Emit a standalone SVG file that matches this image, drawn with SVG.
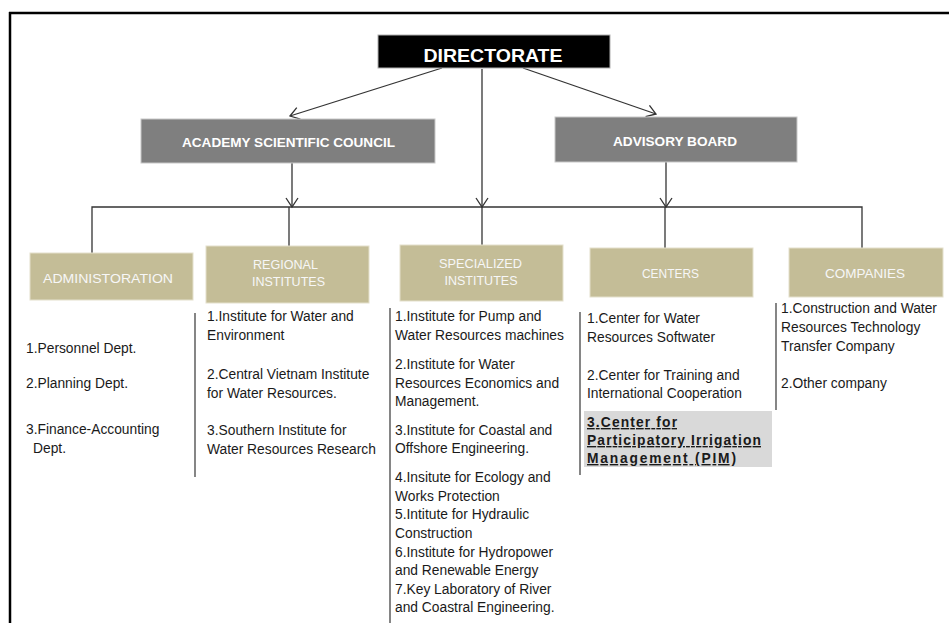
<svg xmlns="http://www.w3.org/2000/svg" width="949" height="623" viewBox="0 0 949 623">
<style>
.hd{font-family:"Liberation Sans",Arial,sans-serif;font-weight:bold;fill:#fff;text-anchor:middle}
.tn{font-family:"Liberation Sans",Arial,sans-serif;font-size:13px;fill:#f7f7f7;text-anchor:middle}
.ls{font-family:"Liberation Sans",Arial,sans-serif;font-size:13.8px;fill:#1a1a1a}
.lb{font-family:"Liberation Sans",Arial,sans-serif;font-size:13.8px;font-weight:bold;fill:#1a1a1a;text-decoration:underline}
.gray{fill:#7f7f7f;stroke:#c8c8c8;stroke-width:1}
.tan{fill:#c4bd97;stroke:#e4e0cc;stroke-width:1}
.cn{fill:none;stroke:#333;stroke-width:1.3}
.sep{fill:none;stroke:#444;stroke-width:1.3}
</style>
<defs>
<marker id="arr" markerUnits="userSpaceOnUse" markerWidth="14" markerHeight="14" viewBox="-11 -7 12 14" refX="0" refY="0" orient="auto">
<path d="M-9,-6 L0,0 L-9,6" fill="none" stroke="#333" stroke-width="1.3"/>
</marker>
</defs>
<rect width="949" height="623" fill="#fff"/>
<g id="frame">
<line x1="9" y1="13" x2="949" y2="13" stroke="#000" stroke-width="2.5"/>
<line x1="10" y1="12" x2="10" y2="623" stroke="#000" stroke-width="2.5"/>
</g>
<g id="connectors">
<line class="cn" x1="442" y1="68" x2="290" y2="116" marker-end="url(#arr)"/>
<line class="cn" x1="523" y1="68" x2="656" y2="114" marker-end="url(#arr)"/>
<line class="cn" x1="482" y1="69" x2="482" y2="207" marker-end="url(#arr)"/>
<line class="cn" x1="292" y1="163" x2="292" y2="207" marker-end="url(#arr)"/>
<line class="cn" x1="666" y1="162" x2="666" y2="207" marker-end="url(#arr)"/>
<polyline class="cn" points="92,253 92,207 862,207 862,248"/>
<line class="cn" x1="289" y1="207" x2="289" y2="246"/>
<line class="cn" x1="482" y1="207" x2="482" y2="245"/>
<line class="cn" x1="665" y1="207" x2="665" y2="248"/>
</g>
<g id="directorate">
<rect x="378" y="35" width="232" height="33" fill="#000" stroke="#b0b0b0" stroke-width="1"/>
<text class="hd" x="493" y="62" font-size="19" textLength="139" lengthAdjust="spacingAndGlyphs">DIRECTORATE</text>
</g>
<g id="academy-council">
<rect class="gray" x="141" y="119" width="294" height="44"/>
<text class="hd" x="288.5" y="147" font-size="13" textLength="213" lengthAdjust="spacingAndGlyphs">ACADEMY  SCIENTIFIC  COUNCIL</text>
</g>
<g id="advisory-board">
<rect class="gray" x="555" y="117" width="242" height="45"/>
<text class="hd" x="675" y="146" font-size="13" textLength="124" lengthAdjust="spacingAndGlyphs">ADVISORY  BOARD</text>
</g>
<g id="administration">
<rect class="tan" x="30" y="253" width="163" height="47"/>
<text class="tn" x="108" y="283" textLength="130" lengthAdjust="spacingAndGlyphs">ADMINISTORATION</text>
<text class="ls" x="26" y="353">1.Personnel Dept.</text>
<text class="ls" x="26" y="388">2.Planning Dept.</text>
<text class="ls" x="26" y="434">3.Finance-Accounting</text>
<text class="ls" x="33" y="453">Dept.</text>
</g>
<g id="regional-institutes">
<rect class="tan" x="206" y="246" width="163" height="57"/>
<text class="tn" x="285.5" y="269" textLength="65" lengthAdjust="spacingAndGlyphs">REGIONAL</text>
<text class="tn" x="288.5" y="286" textLength="73" lengthAdjust="spacingAndGlyphs">INSTITUTES</text>
<line class="sep" x1="195" y1="313" x2="195" y2="477"/>
<text class="ls" x="207" y="321">1.Institute for Water and</text>
<text class="ls" x="207" y="340">Environment</text>
<text class="ls" x="207" y="379">2.Central Vietnam Institute</text>
<text class="ls" x="207" y="398">for Water Resources.</text>
<text class="ls" x="207" y="435">3.Southern Institute for</text>
<text class="ls" x="207" y="454">Water Resources Research</text>
</g>
<g id="specialized-institutes">
<rect class="tan" x="400" y="245" width="163" height="56"/>
<text class="tn" x="480.5" y="268" textLength="83" lengthAdjust="spacingAndGlyphs">SPECIALIZED</text>
<text class="tn" x="481" y="285" textLength="73" lengthAdjust="spacingAndGlyphs">INSTITUTES</text>
<line class="sep" x1="390" y1="308" x2="390" y2="623"/>
<text class="ls" x="395" y="321">1.Institute for Pump and</text>
<text class="ls" x="395" y="340">Water Resources machines</text>
<text class="ls" x="395" y="369">2.Institute for Water</text>
<text class="ls" x="395" y="388">Resources Economics and</text>
<text class="ls" x="395" y="406">Management.</text>
<text class="ls" x="395" y="435">3.Institute for Coastal and</text>
<text class="ls" x="395" y="453">Offshore Engineering.</text>
<text class="ls" x="395" y="482">4.Insitute for Ecology and</text>
<text class="ls" x="395" y="501">Works Protection</text>
<text class="ls" x="395" y="519">5.Intitute for Hydraulic</text>
<text class="ls" x="395" y="538">Construction</text>
<text class="ls" x="395" y="557">6.Institute for Hydropower</text>
<text class="ls" x="395" y="575">and Renewable Energy</text>
<text class="ls" x="395" y="594">7.Key Laboratory of River</text>
<text class="ls" x="395" y="612">and Coastral Engineering.</text>
</g>
<g id="centers">
<rect class="tan" x="590" y="248" width="163" height="49"/>
<text class="tn" x="670.5" y="278" textLength="57" lengthAdjust="spacingAndGlyphs">CENTERS</text>
<line class="sep" x1="580" y1="312" x2="580" y2="475"/>
<text class="ls" x="587" y="323">1.Center for Water</text>
<text class="ls" x="587" y="342">Resources Softwater</text>
<text class="ls" x="587" y="380">2.Center for Training and</text>
<text class="ls" x="587" y="398">International Cooperation</text>
<rect x="584" y="411" width="188" height="56" fill="#d9d9d9"/>
<text class="lb" x="587" y="427" textLength="90" lengthAdjust="spacing">3.Center for</text>
<text class="lb" x="587" y="445" textLength="174" lengthAdjust="spacing">Participatory Irrigation</text>
<text class="lb" x="587" y="463" textLength="149" lengthAdjust="spacing">Management (PIM)</text>
</g>
<g id="companies">
<rect class="tan" x="789" y="248" width="154" height="49"/>
<text class="tn" x="865" y="278" textLength="80" lengthAdjust="spacingAndGlyphs">COMPANIES</text>
<line class="sep" x1="776" y1="303" x2="776" y2="410"/>
<text class="ls" x="781" y="313">1.Construction and Water</text>
<text class="ls" x="781" y="332">Resources Technology</text>
<text class="ls" x="781" y="351">Transfer Company</text>
<text class="ls" x="781" y="388">2.Other company</text>
</g>
</svg>
